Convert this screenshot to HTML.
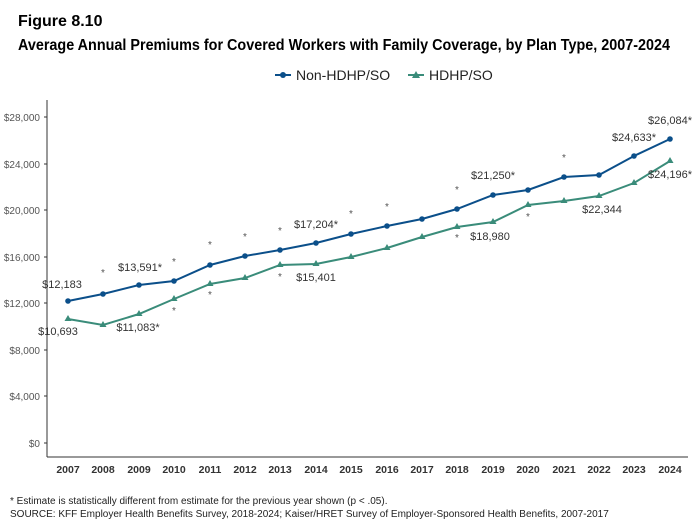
<!DOCTYPE html>
<html><head><meta charset="utf-8"><style>
body{margin:0;background:#fff;font-family:"Liberation Sans",Arial,sans-serif;}
</style></head><body>
<svg width="698" height="525" xmlns="http://www.w3.org/2000/svg" font-family="Liberation Sans, Arial, sans-serif">
<rect width="698" height="525" fill="#fff"/>
<text x="18" y="26" font-size="16" font-weight="bold" fill="#000">Figure 8.10</text>
<text x="18" y="50" font-size="16" font-weight="bold" fill="#000" textLength="652" lengthAdjust="spacingAndGlyphs">Average Annual Premiums for Covered Workers with Family Coverage, by Plan Type, 2007-2024</text>
<g font-size="14" fill="#222">
<line x1="275" y1="75" x2="291" y2="75" stroke="#0b4f8a" stroke-width="2"/><circle cx="283" cy="75" r="3" fill="#0b4f8a"/>
<text x="296" y="80">Non-HDHP/SO</text>
<line x1="408" y1="75" x2="424" y2="75" stroke="#3a8c7a" stroke-width="2"/><polygon points="416,71 420,78 412,78" fill="#3a8c7a"/>
<text x="429" y="80">HDHP/SO</text>
</g>
<line x1="47" y1="100" x2="47" y2="457" stroke="#333" stroke-width="1"/>
<line x1="47" y1="457" x2="688" y2="457" stroke="#333" stroke-width="1"/>
<g font-size="10" fill="#555" text-anchor="end">
<text x="40" y="447">$0</text><text x="40" y="400">$4,000</text><text x="40" y="354">$8,000</text>
<text x="40" y="307">$12,000</text><text x="40" y="261">$16,000</text><text x="40" y="214">$20,000</text>
<text x="40" y="168">$24,000</text><text x="40" y="121">$28,000</text>
</g>
<g stroke="#333"><line x1="44" y1="443" x2="47" y2="443"/><line x1="44" y1="396" x2="47" y2="396"/><line x1="44" y1="350" x2="47" y2="350"/><line x1="44" y1="303" x2="47" y2="303"/><line x1="44" y1="257" x2="47" y2="257"/><line x1="44" y1="210" x2="47" y2="210"/><line x1="44" y1="164" x2="47" y2="164"/><line x1="44" y1="117" x2="47" y2="117"/></g>
<g font-size="10.5" font-weight="bold" fill="#333" text-anchor="middle">
<text x="68" y="473">2007</text><text x="103" y="473">2008</text><text x="139" y="473">2009</text><text x="174" y="473">2010</text><text x="210" y="473">2011</text><text x="245" y="473">2012</text><text x="280" y="473">2013</text><text x="316" y="473">2014</text><text x="351" y="473">2015</text><text x="387" y="473">2016</text><text x="422" y="473">2017</text><text x="457" y="473">2018</text><text x="493" y="473">2019</text><text x="528" y="473">2020</text><text x="564" y="473">2021</text><text x="599" y="473">2022</text><text x="634" y="473">2023</text><text x="670" y="473">2024</text>
</g>
<polyline fill="none" stroke="#0b4f8a" stroke-width="2" points="68,301 103,294 139,285 174,281 210,265 245,256 280,250 316,243 351,234 387,226 422,219 457,209 493,195 528,190 564,177 599,175 634,156 670,139"/>
<g fill="#0b4f8a"><circle cx="68" cy="301" r="2.8"/><circle cx="103" cy="294" r="2.8"/><circle cx="139" cy="285" r="2.8"/><circle cx="174" cy="281" r="2.8"/><circle cx="210" cy="265" r="2.8"/><circle cx="245" cy="256" r="2.8"/><circle cx="280" cy="250" r="2.8"/><circle cx="316" cy="243" r="2.8"/><circle cx="351" cy="234" r="2.8"/><circle cx="387" cy="226" r="2.8"/><circle cx="422" cy="219" r="2.8"/><circle cx="457" cy="209" r="2.8"/><circle cx="493" cy="195" r="2.8"/><circle cx="528" cy="190" r="2.8"/><circle cx="564" cy="177" r="2.8"/><circle cx="599" cy="175" r="2.8"/><circle cx="634" cy="156" r="2.8"/><circle cx="670" cy="139" r="2.8"/></g>
<polyline fill="none" stroke="#3a8c7a" stroke-width="2" points="68,319 103,325 139,314 174,299 210,284 245,278 280,265 316,264 351,257 387,248 422,237 457,227 493,222 528,205 564,201 599,196 634,183 670,161"/>
<g fill="#3a8c7a">
<polygon points="68,315 71.5,321 64.5,321"/><polygon points="103,321 106.5,327 99.5,327"/><polygon points="139,310 142.5,316 135.5,316"/><polygon points="174,295 177.5,301 170.5,301"/><polygon points="210,280 213.5,286 206.5,286"/><polygon points="245,274 248.5,280 241.5,280"/><polygon points="280,261 283.5,267 276.5,267"/><polygon points="316,260 319.5,266 312.5,266"/><polygon points="351,253 354.5,259 347.5,259"/><polygon points="387,244 390.5,250 383.5,250"/><polygon points="422,233 425.5,239 418.5,239"/><polygon points="457,223 460.5,229 453.5,229"/><polygon points="493,218 496.5,224 489.5,224"/><polygon points="528,201 531.5,207 524.5,207"/><polygon points="564,197 567.5,203 560.5,203"/><polygon points="599,192 602.5,198 595.5,198"/><polygon points="634,179 637.5,185 630.5,185"/><polygon points="670,157 673.5,163 666.5,163"/></g>
<g font-size="11" fill="#333" text-anchor="middle">
<text x="62" y="288">$12,183</text><text x="140" y="271">$13,591*</text><text x="316" y="228">$17,204*</text><text x="493" y="179">$21,250*</text><text x="634" y="141">$24,633*</text><text x="670" y="124">$26,084*</text>
<text x="58" y="335">$10,693</text><text x="138" y="331">$11,083*</text><text x="316" y="281">$15,401</text><text x="490" y="240">$18,980</text><text x="602" y="213">$22,344</text><text x="670" y="178">$24,196*</text>
</g>
<g font-size="10" fill="#555" text-anchor="middle">
<text x="103" y="276">*</text><text x="174" y="265">*</text><text x="210" y="248">*</text><text x="245" y="240">*</text><text x="280" y="234">*</text><text x="351" y="217">*</text><text x="387" y="210">*</text><text x="457" y="193">*</text><text x="564" y="161">*</text>
<text x="174" y="314">*</text><text x="210" y="298">*</text><text x="280" y="280">*</text><text x="457" y="241">*</text><text x="528" y="220">*</text>
</g>
<text x="10" y="504" font-size="10" fill="#222">* Estimate is statistically different from estimate for the previous year shown (p &lt; .05).</text>
<text x="10" y="517" font-size="10" fill="#222">SOURCE: KFF Employer Health Benefits Survey, 2018-2024; Kaiser/HRET Survey of Employer-Sponsored Health Benefits, 2007-2017</text>
</svg>
</body></html>
